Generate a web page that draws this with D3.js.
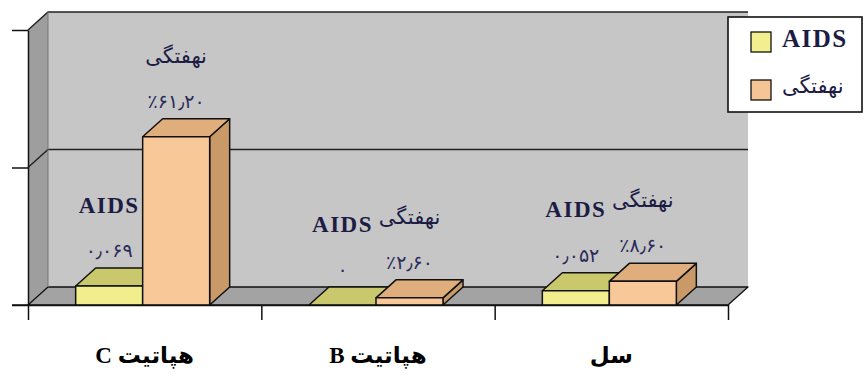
<!DOCTYPE html>
<html>
<head>
<meta charset="utf-8">
<script src="https://cdn.jsdelivr.net/npm/d3@7"></script>
<style>
  html, body { margin: 0; padding: 0; background: #fff; }
  svg { display: block; }
</style>
</head>
<body>
<svg id="chart" width="864" height="378"></svg>
<script>
// Disease categories along the floor
const categories = ["هپاتیت C", "هپاتیت B", "سل"];
// Series names (legend order)
const seriesNames = ["AIDS", "نهفتگی"];
// AIDS rate as a fraction (plotted as percent)
const aidsRate = [0.069, 0, 0.052];
// Latency rate in percent
const latencyPct = [61.2, 2.6, 8.6];
// Value-axis tick positions (percent)
const yTicks = [0, 50, 100];

const svg = d3.select("#chart");

// 3-D depth offset of walls and boxes
const DX = 20, DY = -18;

const plot = { left: 28, right: 728, top: 30, bottom: 305 };

const y = d3.scaleLinear().domain([0, 100]).range([plot.bottom, plot.top]);
const xBand = d3.scaleBand().domain(categories).range([plot.left, plot.right]).paddingInner(0).paddingOuter(0);
const xEdge = d3.scaleLinear().domain([0, categories.length]).range([plot.left, plot.right]);

const colors = {
  wall: "#c6c6c6", side: "#9e9e9e", floor: "#a3a3a3",
  series: [
    { front: "#f2ee8e", top: "#c9c86c", side: "#b5b45c", swatch: "#f2f08e" },
    { front: "#f9c898", top: "#dfae7c", side: "#c99a68", swatch: "#f6c596" }
  ],
  text: "#1c1c44"
};

const ink = "#111";
const poly = pts => pts.map(p => p.join(",")).join(" ");

// ----- walls and floor -----
const walls = svg.append("g");
// back wall
walls.append("rect")
  .attr("x", plot.left + DX).attr("y", plot.top + DY)
  .attr("width", plot.right - plot.left).attr("height", plot.bottom - plot.top)
  .attr("fill", colors.wall);
// left side wall
walls.append("polygon")
  .attr("points", poly([[plot.left, plot.top], [plot.left + DX, plot.top + DY], [plot.left + DX, plot.bottom + DY], [plot.left, plot.bottom]]))
  .attr("fill", colors.side);
// floor
walls.append("polygon")
  .attr("points", poly([[plot.left, plot.bottom], [plot.left + DX, plot.bottom + DY], [plot.right + DX, plot.bottom + DY], [plot.right, plot.bottom]]))
  .attr("fill", colors.floor)
  .attr("stroke", ink).attr("stroke-width", 1.3).attr("stroke-linejoin", "round");

// gridlines on side + back wall at each value tick (top one is the wall rim)
yTicks.filter(t => t > 0).forEach(t => {
  walls.append("polyline")
    .attr("points", poly([[plot.left, y(t)], [plot.left + DX, y(t) + DY], [plot.right + DX, y(t) + DY]]))
    .attr("fill", "none").attr("stroke", "#222").attr("stroke-width", 1.4);
});
// back wall left edge
walls.append("line")
  .attr("x1", plot.left + DX).attr("x2", plot.left + DX)
  .attr("y1", plot.top + DY).attr("y2", plot.bottom + DY)
  .attr("stroke", "#777").attr("stroke-width", 1);

// ----- bars -----
const groupWidth = 134;
const xSeries = d3.scaleBand().domain(seriesNames).range([0, groupWidth]);

const rows = categories.map((c, i) => ({
  cat: c,
  vals: [
    { s: 0, raw: aidsRate[i], pct: aidsRate[i] * 100 },
    { s: 1, raw: latencyPct[i], pct: latencyPct[i] }
  ]
}));

const toPersian = str => str.replace(/[0-9]/g, d => "۰۱۲۳۴۵۶۷۸۹"[+d]).replace(/\./g, "٫");
const fmt = v => v.s === 0
  ? toPersian(v.raw === 0 ? "0" : v.raw.toFixed(3))
  : "٪" + toPersian(v.raw.toFixed(2));

const bars = svg.append("g");
const labels = svg.append("g");

function styleName(sel, i, big) {
  if (i === 0) {
    sel.attr("font-family", "Liberation Serif, serif").attr("font-weight", "bold")
      .attr("font-size", big ? 25 : 23).attr("letter-spacing", 1.5);
  } else {
    sel.attr("font-family", "DejaVu Sans, sans-serif").attr("font-size", 21);
  }
}

rows.forEach(row => {
  const g0 = xBand(row.cat) + xBand.bandwidth() / 2 - 2 - groupWidth / 2;
  row.vals.forEach(v => {
    const x0 = g0 + xSeries(seriesNames[v.s]);
    const x1 = x0 + xSeries.bandwidth();
    const yt = y(v.pct), yb = y(0);
    const c = colors.series[v.s];
    const g = bars.append("g").attr("stroke", ink).attr("stroke-width", 1.5).attr("stroke-linejoin", "round");
    g.append("polygon")
      .attr("points", poly([[x1, yt], [x1 + DX, yt + DY], [x1 + DX, yb + DY], [x1, yb]]))
      .attr("fill", c.side);
    g.append("polygon")
      .attr("points", poly([[x0, yt], [x0 + DX, yt + DY], [x1 + DX, yt + DY], [x1, yt]]))
      .attr("fill", c.top);
    g.append("rect")
      .attr("x", x0).attr("y", yt).attr("width", x1 - x0).attr("height", Math.max(0, yb - yt))
      .attr("fill", c.front);

    // data labels: series name above, value below
    const cx = (x0 + x1) / 2;
    labels.append("text")
      .attr("x", cx).attr("y", yt - 81)
      .attr("text-anchor", "middle").attr("dominant-baseline", "central")
      .attr("fill", colors.text)
      .call(styleName, v.s, false)
      .text(seriesNames[v.s]);
    labels.append("text")
      .attr("x", cx).attr("y", yt - 36)
      .attr("text-anchor", "middle").attr("dominant-baseline", "central")
      .attr("font-family", "DejaVu Sans, sans-serif").attr("font-size", 19)
      .attr("fill", "#2a2a5a")
      .style("direction", "ltr")
      .text(fmt(v));
  });
});

// ----- axes -----
const yAxis = d3.axisLeft(y).tickValues(yTicks).tickFormat("").tickSize(16).tickSizeOuter(0);
svg.append("g").attr("transform", `translate(${plot.left},0)`).call(yAxis)
  .call(g => g.selectAll("line,path").attr("stroke", ink).attr("stroke-width", 1.5));

const xAxis = d3.axisBottom(xEdge).tickValues(d3.range(categories.length + 1)).tickFormat("").tickSize(15).tickSizeOuter(0);
svg.append("g").attr("transform", `translate(0,${plot.bottom})`).call(xAxis)
  .call(g => g.selectAll("line,path").attr("stroke", ink).attr("stroke-width", 1.5));
// extend the base line to meet the value-axis ticks
svg.append("line")
  .attr("x1", plot.left - 16).attr("x2", plot.left)
  .attr("y1", plot.bottom).attr("y2", plot.bottom)
  .attr("stroke", ink).attr("stroke-width", 1.5);

// category labels
svg.append("g").selectAll("text").data(categories).join("text")
  .attr("x", d => xBand(d) + xBand.bandwidth() / 2)
  .attr("y", 355)
  .attr("text-anchor", "middle").attr("dominant-baseline", "central")
  .attr("font-family", "Liberation Serif, DejaVu Sans, serif")
  .attr("font-weight", "bold").attr("font-size", 23)
  .attr("fill", "#000")
  .style("direction", "rtl")
  .text(d => d);

// ----- legend -----
const legend = svg.append("g");
legend.append("rect")
  .attr("x", 728).attr("y", 17).attr("width", 134).attr("height", 95)
  .attr("fill", "#fff").attr("stroke", ink).attr("stroke-width", 1.6);
seriesNames.forEach((name, i) => {
  const ly = 42 + i * 48;
  legend.append("rect")
    .attr("x", 751).attr("y", ly - 10).attr("width", 20).attr("height", 20)
    .attr("fill", colors.series[i].swatch).attr("stroke", ink).attr("stroke-width", 1.3);
  legend.append("text")
    .attr("x", 782).attr("y", ly - 4)
    .attr("dominant-baseline", "central")
    .attr("fill", colors.text)
    .call(styleName, i, true)
    .text(name);
});
</script>
</body>
</html>
